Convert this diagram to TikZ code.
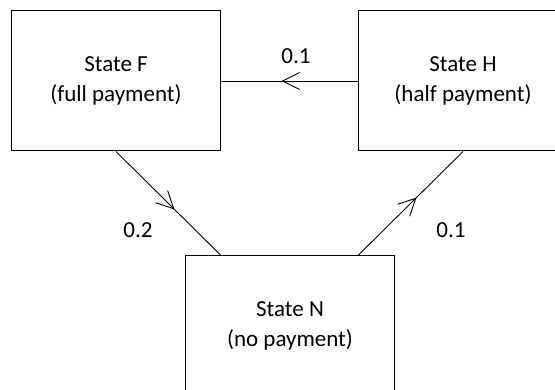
\documentclass[tikz,border=0pt]{standalone}
\usepackage{fontspec}
\setmainfont{Carlito}
\usetikzlibrary{decorations.markings}
\begin{document}
\begin{tikzpicture}[x=1pt,y=-1pt,
  state/.style={draw, line width=1pt, minimum width=209pt, minimum height=140pt, inner sep=0pt, align=center, font=\fontsize{23}{30}\selectfont},
  lbl/.style={font=\fontsize{23}{30}\selectfont, inner sep=0pt},
  conn/.style={line width=0.9pt, postaction={decorate}, decoration={markings, mark=at position 0.55 with {\draw[line width=0.9pt, line join=miter] (-17pt,-8.5pt) -- (0pt,0pt) -- (-17pt,8.5pt);}}}]
\clip (0,0) rectangle (555,390);
\node[state] (F) at (116,81) {State F\\(full payment)};
\node[state] (H) at (463,81) {State H\\(half payment)};
\node[state] (N) at (290,326) {State N\\(no payment)};
\coordinate (n1) at (F.east |- N.north);
\coordinate (n2) at (H.west |- N.north);
\draw[conn] (H.west) -- (F.east);
\draw[conn] (F.south) -- (n1);
\draw[conn] (n2) -- (H.south);
\node[lbl] (p1) at (296,56) {0.1};
\node[lbl] (p2) at (138,230) {0.2};
\node[lbl] (p3) at (451,230) {0.1};
\end{tikzpicture}
\end{document}
